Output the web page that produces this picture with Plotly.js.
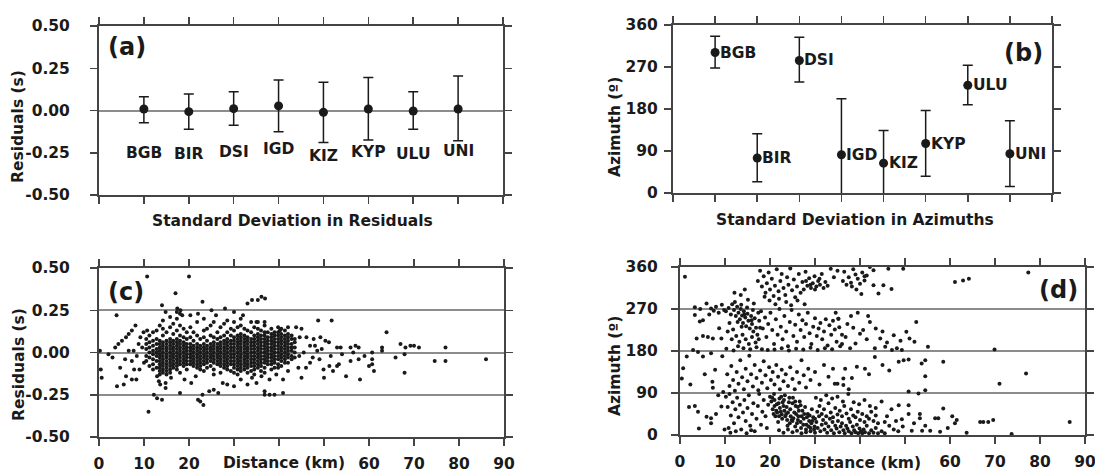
<!DOCTYPE html>
<html><head><meta charset="utf-8">
<script src="https://cdn.plot.ly/plotly-3.0.1.min.js"></script>
<style>html,body{margin:0;padding:0;background:#fff}#chart{width:1095px;height:473px}</style>
</head><body><div id="chart"></div>
<script>
// ---------- DATA ----------
const stations = ['BGB','BIR','DSI','IGD','KIZ','KYP','ULU','UNI'];
const resMean  = [0.009,-0.007,0.011,0.027,-0.011,0.009,-0.003,0.009];
const resUpper = [0.082,0.098,0.111,0.180,0.167,0.196,0.111,0.204];
const resLower = [-0.072,-0.111,-0.088,-0.125,-0.190,-0.175,-0.111,-0.179];
const resLabelY = [-0.253,-0.260,-0.245,-0.230,-0.270,-0.245,-0.257,-0.240];

const aziMean  = [301,75,284,82,64,106,231,84];
const aziUpper = [336,127,334,202,134,177,274,155];
const aziLower = [268,24,238,-36,-7,36,189,14];

const distTicks = [0,10,20,30,40,50,60,70,80,90];
const distTickText = ['0','10','20','','','','60','70','80','90'];

// residual vs distance: dense streak columns [distance, residuals]
const resColumns = [
 [10.5,[0.02,-0.02,0.05,-0.05,0.08]],
 [11.2,[0.0,0.03,-0.03,0.06,-0.08,0.1]],
 [12.0,[0.01,-0.01,0.04,-0.04,0.07,-0.07,0.12,-0.1]],
 [12.8,[0.0,0.02,-0.02,0.05,-0.05,0.08,-0.09,0.13]],
 [13.5,[0.03,0.01,-0.01,-0.03,-0.05,-0.07,-0.09,-0.11,-0.13,0.05,0.07,0.16]],
 [14.2,[0.06,0.04,0.02,0.0,-0.02,-0.04,-0.06,-0.08,-0.1,-0.12,0.1,0.14,0.19]],
 [15.0,[0.07,0.05,0.03,0.01,-0.01,-0.03,-0.05,-0.07,-0.09,-0.11,-0.13,0.12]],
 [15.8,[0.08,0.06,0.04,0.02,0.0,-0.02,-0.04,-0.06,-0.08,-0.1,-0.12,0.15,0.21]],
 [16.5,[0.07,0.05,0.03,0.01,-0.01,-0.03,-0.05,-0.07,-0.09,0.11,0.17]],
 [17.3,[0.08,0.06,0.04,0.02,0.0,-0.02,-0.04,-0.06,-0.08,-0.1,0.13,0.2,0.24]],
 [18.0,[0.07,0.05,0.03,0.01,-0.01,-0.03,-0.05,-0.07,-0.12,0.1,0.16,0.23]],
 [18.8,[0.06,0.04,0.02,0.0,-0.02,-0.04,-0.06,-0.08,0.09,0.14]],
 [19.5,[0.05,0.03,0.01,-0.01,-0.03,-0.05,-0.07,-0.1,0.08,0.12]],
 [20.3,[0.05,0.03,0.01,-0.01,-0.03,-0.05,-0.07,0.09,0.15,0.22]],
 [21.0,[0.04,0.02,0.0,-0.02,-0.04,-0.06,-0.08,0.07,0.12]],
 [21.8,[0.05,0.03,0.01,-0.01,-0.03,-0.05,-0.07,-0.09,0.1,0.18]],
 [22.5,[0.04,0.02,0.0,-0.02,-0.04,-0.06,-0.08,-0.1,0.08]],
 [23.3,[0.05,0.03,0.01,-0.01,-0.03,-0.05,-0.07,-0.11,0.09,0.13,0.2]],
 [24.0,[0.04,0.02,0.0,-0.02,-0.04,-0.06,-0.09,0.07,0.14]],
 [24.8,[0.05,0.03,0.01,-0.01,-0.03,-0.05,-0.08,0.1,0.16]],
 [25.5,[0.06,0.04,0.02,0.0,-0.02,-0.04,-0.06,-0.1,-0.13,0.09,0.18]],
 [26.3,[0.05,0.03,0.01,-0.01,-0.03,-0.05,-0.07,0.08,0.12]],
 [27.0,[0.06,0.04,0.02,0.0,-0.02,-0.04,-0.06,-0.08,-0.12,0.09,0.15]],
 [27.8,[0.07,0.05,0.03,0.01,-0.01,-0.03,-0.05,-0.07,-0.09,0.1,0.17]],
 [28.5,[0.08,0.06,0.04,0.02,0.0,-0.02,-0.04,-0.06,-0.08,-0.1,0.12,0.19]],
 [29.3,[0.07,0.05,0.03,0.01,-0.01,-0.03,-0.05,-0.07,-0.11,0.1,0.14]],
 [30.0,[0.09,0.07,0.05,0.03,0.01,-0.01,-0.03,-0.05,-0.07,-0.09,-0.12,0.13,0.18]],
 [30.8,[0.1,0.08,0.06,0.04,0.02,0.0,-0.02,-0.04,-0.06,-0.08,-0.1,-0.13,0.15]],
 [31.5,[0.11,0.09,0.07,0.05,0.03,0.01,-0.01,-0.03,-0.05,-0.07,-0.09,-0.11,0.16,0.2]],
 [32.3,[0.1,0.08,0.06,0.04,0.02,0.0,-0.02,-0.04,-0.06,-0.08,-0.1,0.14]],
 [33.0,[0.09,0.07,0.05,0.03,0.01,-0.01,-0.03,-0.05,-0.07,-0.09,-0.12,0.13]],
 [33.8,[0.08,0.06,0.04,0.02,0.0,-0.02,-0.04,-0.06,-0.08,-0.11,0.12,0.18]],
 [34.5,[0.1,0.08,0.06,0.04,0.02,0.0,-0.02,-0.04,-0.06,-0.08,-0.1,-0.13,0.15]],
 [35.3,[0.11,0.09,0.07,0.05,0.03,0.01,-0.01,-0.03,-0.05,-0.07,-0.09,0.14,0.18]],
 [36.0,[0.1,0.08,0.06,0.04,0.02,0.0,-0.02,-0.04,-0.06,-0.08,-0.11,0.13]],
 [36.8,[0.12,0.1,0.08,0.06,0.04,0.02,0.0,-0.02,-0.04,-0.06,-0.09,-0.12,0.16]],
 [37.5,[0.09,0.07,0.05,0.03,0.01,-0.01,-0.03,-0.05,-0.07,0.12]],
 [38.3,[0.11,0.09,0.07,0.05,0.03,0.01,-0.01,-0.03,-0.05,-0.07,-0.1,0.14]],
 [39.0,[0.1,0.08,0.06,0.04,0.02,0.0,-0.02,-0.04,-0.06,-0.09,0.12]],
 [39.8,[0.12,0.1,0.08,0.06,0.04,0.02,0.0,-0.02,-0.04,-0.07,0.15]],
 [40.5,[0.11,0.09,0.07,0.05,0.03,0.01,-0.01,-0.03,-0.05,-0.08,0.14]],
 [41.3,[0.1,0.08,0.06,0.04,0.02,0.0,-0.02,-0.04,-0.06,0.13]],
 [42.0,[0.09,0.07,0.05,0.03,0.01,-0.01,-0.03,-0.06,0.11]],
 [42.8,[0.08,0.05,0.03,0.01,-0.02,-0.04,0.1]],
 [43.5,[0.06,0.03,0.0,-0.03,0.08]]
];
// residual vs distance: scattered points [distance, residual]
const resScatter = [
 [0.4,-0.10],[0.6,-0.15],[0.2,0.01],[2.1,-0.01],[3.0,-0.03],[3.9,0.22],[3.6,0.03],[4.3,0.05],[5.1,0.07],[6.0,0.09],
 [6.6,0.11],[7.3,0.13],[8.1,0.16],[6.0,-0.14],[5.8,-0.04],[4.7,-0.09],[7.3,-0.05],[7.8,-0.10],[7.3,-0.16],[8.3,-0.16],
 [6.6,0.01],[7.7,0.01],[8.4,-0.02],[8.8,0.05],[9.2,0.09],[9.6,0.03],[9.9,0.12],[10.7,0.13],[10.7,0.45],[11.0,-0.35],
 [12.2,-0.25],[12.9,-0.27],[14.0,-0.28],[12.9,-0.14],[13.3,-0.17],[13.6,-0.19],[14.8,-0.18],[14.8,-0.21],[17.0,0.35],[20.0,0.45],
 [23.0,0.30],[14.0,0.28],[14.8,0.24],[17.4,0.26],[18.1,0.25],[18.5,0.22],[4.0,-0.2],[5.5,-0.19],[9.0,-0.10],[10.0,-0.06],
 [18.0,-0.24],[20.5,-0.18],[22.0,-0.28],[22.5,-0.29],[23.2,-0.31],[23.0,-0.25],[21.5,-0.14],[24.5,-0.23],[25.5,-0.22],[26.5,-0.24],
 [27.5,-0.18],[28.5,-0.19],[19.0,-0.16],[16.0,-0.15],[25.0,0.25],[26.0,0.22],[22.0,0.23],[28.0,0.26],[30.0,0.24],[32.0,0.22],
 [33.0,0.29],[34.0,0.31],[35.3,0.31],[36.1,0.33],[36.9,0.32],[35.0,0.18],[36.8,0.18],[40.2,0.13],[42.0,0.15],[43.8,0.15],
 [35.0,-0.18],[36.8,-0.23],[36.8,-0.25],[37.9,-0.25],[39.0,-0.25],[40.9,-0.24],[37.9,-0.16],[39.4,-0.13],[36.1,-0.14],[39.8,-0.09],
 [42.0,-0.11],[44.3,-0.09],[33.0,-0.19],[31.5,-0.16],[30.0,-0.2],[34.0,-0.15],
 [48.7,0.19],[51.7,0.19],[45.0,0.14],[63.9,0.12],[44.6,0.09],[46.1,0.09],[47.7,0.08],[49.2,0.09],[50.3,0.07],[51.1,0.06],
 [46.9,0.04],[48.0,0.04],[49.5,0.02],[52.9,0.03],[53.7,0.03],[55.9,0.03],[57.0,0.04],[57.7,0.03],[60.7,0.0],[62.9,0.03],
 [62.9,0.01],[67.0,0.05],[68.1,0.03],[69.2,0.04],[70.0,0.04],[71.1,0.03],[77.0,0.03],[65.9,-0.03],[67.9,-0.01],[74.6,-0.05],
 [77.0,-0.05],[86.0,-0.04],[60.7,-0.04],[60.7,-0.07],[60.0,-0.08],[61.1,-0.11],[67.9,-0.12],[57.7,-0.04],[55.9,-0.05],[53.3,-0.07],
 [52.9,-0.08],[52.0,-0.11],[49.9,-0.10],[50.0,-0.15],[51.2,-0.08],[54.9,-0.14],[58.0,-0.16],[49.0,-0.04],[46.9,-0.06],[45.0,-0.15],
 [40.9,-0.16],[44.5,-0.02],[45.5,0.0],[46.0,-0.09],[47.5,-0.03],[48.5,0.01],[51.5,-0.02],[54.0,-0.01],[56.5,0.0],[59.0,-0.02]
];
// azimuth vs distance [distance, azimuth]
const aziPoints = [
 [1.1,339],[0.7,143],[0.4,121],[2.3,108],[3.3,257],[5.1,246],[4.4,243],[3.7,207],[3.3,274],[4.5,270],
 [5.9,282],[6.9,271],[7.5,266],[8.0,275],[8.6,262],[9.3,279],[9.8,268],[5.1,212],[6.2,210],[7.3,207],
 [9.2,207],[2.9,182],[4.0,178],[5.1,168],[6.9,175],[9.4,169],[1.5,168],[3.3,62],[4.0,50],[5.9,39],
 [6.9,36],[6.9,25],[4.2,14],[7.2,114],[7.3,101],[9.2,61],[8.5,85],[9.6,92],[8.0,45],[7.8,140],
 [2.0,60],[9.9,12],[6.5,258],[8.7,229],[5.5,130],
 [10.2,265],[10.8,272],[11.3,258],[11.6,280],[12.0,268],[12.4,255],[12.7,275],[13.0,262],[13.3,248],[13.5,270],
 [13.8,256],[14.0,240],[14.2,265],[14.5,252],[14.7,233],[15.0,260],[15.2,245],[15.5,228],[15.8,255],[16.0,238],
 [16.3,222],[16.6,250],[16.9,230],[17.2,215],[12.2,285],[13.6,279],[14.9,273],[16.2,268],[11.0,240],[11.8,226],
 [12.5,212],[13.2,200],[13.9,215],[14.6,205],[15.3,195],[16.0,210],[16.8,198],[17.5,205],[12.9,190],[14.1,186],
 [15.6,184],[17.0,188],[10.6,222],[11.5,205],[13.7,232],[15.9,246],[14.3,258],[12.8,242],[10.3,185],[11.9,181],
 [17.8,230],[17.4,262],[16.4,282],[15.1,290],[13.5,300],[14.4,312],[12.1,305],
 [17.3,330],[17.8,352],[18.2,318],[18.6,340],[19.0,305],[19.3,325],[19.7,348],[20.0,312],[20.4,335],[20.8,298],
 [21.1,320],[21.5,355],[21.9,308],[22.3,330],[22.6,345],[23.0,315],[23.4,300],[23.8,338],[24.1,322],[24.5,357],
 [24.9,310],[25.3,333],[25.6,295],[26.0,318],[26.4,345],[26.8,305],[27.2,328],[27.5,312],[27.9,350],[28.3,320],
 [28.7,336],[29.1,315],[29.5,325],[29.9,340],[30.3,318],[30.7,330],[31.1,322],[31.5,345],[31.9,315],[32.3,328],
 [30.0,312],[29.0,322],[28.0,330],[31.0,335],[32.8,320],[33.5,356],[34.2,338],[35.0,352],[18.8,296],[19.9,288],
 [21.2,280],[22.0,292],[23.6,285],[24.7,278],[26.1,288],[27.7,280],
 [17.6,245],[18.0,265],[18.4,228],[18.9,252],[19.2,210],[19.6,238],[20.1,262],[20.5,225],[20.9,195],[21.3,248],
 [21.7,215],[22.1,270],[22.4,232],[22.8,205],[23.2,255],[23.6,222],[24.0,190],[24.4,242],[24.8,268],[25.2,212],
 [25.6,236],[26.0,200],[26.4,258],[26.8,225],[27.2,246],[27.6,210],[28.0,238],[28.4,262],[28.8,218],[29.2,195],
 [29.6,232],[30.0,250],[30.4,212],[30.8,228],[31.2,240],[31.6,205],[32.0,222],[32.4,248],[32.8,192],[33.2,235],
 [33.6,215],[34.0,245],[34.4,226],[35.2,249],[34.8,200],[18.2,184],[19.5,182],[21.0,183],[22.6,186],[24.2,181],
 [25.8,185],[27.4,183],[29.0,187],[30.6,182],[32.2,186],[33.8,184],[35.6,190],[34.6,262],[35.4,231],[36.0,215],
 [36.5,350],[37.5,338],[38.0,326],[38.5,355],[39.0,344],[39.5,335],[40.0,324],[40.5,348],[41.0,331],[41.5,342],
 [42.2,360],[43.0,353],[43.0,321],[44.1,303],[45.2,321],[46.3,356],[49.6,356],[47.0,313],[36.2,330],[37.0,322],
 [38.2,318],[39.2,312],[40.3,302],[41.0,340],[61.1,328],[62.9,331],[64.2,335],[77.4,348],
 [35.2,249],[42.2,242],[50.3,221],[52.5,242],[51.0,207],[52.1,200],[55.1,189],[69.9,183],[49.3,182],[47.1,182],
 [45.6,189],[44.5,207],[40.7,225],[40.0,217],[37.2,238],[38.5,230],[36.8,210],[39.0,196],[41.5,205],[43.3,186],
 [46.0,198],[48.2,186],[37.8,186],[36.0,195],[38.0,255],[39.5,262],[41.8,255],[43.5,228],[45.0,222],[47.5,214],[49.0,202],
 [10.5,130],[11.0,105],[11.4,148],[11.8,118],[12.2,95],[12.6,135],[13.0,110],[13.4,160],[13.8,124],[14.2,98],
 [14.6,142],[15.0,115],[15.4,170],[15.8,130],[16.2,104],[16.6,150],[17.0,122],[17.4,96],[17.8,138],[18.2,112],
 [18.6,158],[19.0,128],[19.4,100],[19.8,145],[20.2,118],[20.6,135],[21.0,108],[21.4,150],[21.8,125],[22.2,98],
 [22.6,140],[23.0,115],[23.5,130],[24.0,105],[24.5,145],[25.0,120],[25.5,98],[26.0,135],[26.5,112],[27.0,160],
 [27.5,128],[28.0,102],[28.5,142],[29.0,118],[30.0,135],[31.0,108],[32.0,150],[33.0,125],[34.0,142],[35.0,110],
 [36.7,142],[39.3,146],[41.1,142],[43.3,167],[34.4,110],[36.3,121],[36.3,107],[38.2,122],[37.5,98],[48.6,157],
 [49.7,160],[50.8,162],[53.7,153],[54.5,160],[58.5,157],[54.5,126],[54.5,96],[71.0,110],[76.9,132],[42.0,130],
 [45.0,150],[46.5,138],
 [10.2,82],[10.6,60],[11.0,88],[11.3,42],[11.7,70],[12.0,25],[12.3,55],[12.7,80],[13.0,38],[13.3,65],
 [13.6,12],[14.0,48],[14.3,75],[14.6,30],[15.0,58],[15.3,85],[15.6,20],[16.0,45],[16.3,68],[16.6,8],
 [17.0,35],[17.3,62],[17.6,88],[18.0,22],[18.3,50],[18.6,75],[19.0,40],[19.3,15],[19.6,65],[20.0,82],
 [11.2,5],[12.4,8],[14.8,4],[15.8,10],[10.8,15],
 [20.3,72],[20.6,55],[20.9,88],[21.2,40],[21.5,66],[21.8,28],[22.1,78],[22.4,50],[22.7,35],[23.0,62],
 [23.3,85],[23.6,45],[23.9,20],[24.2,70],[24.5,55],[24.8,32],[25.1,80],[25.4,48],[25.7,62],[26.0,25],
 [26.3,40],[26.6,72],[26.9,15],[27.2,52],[27.5,35],[27.8,60],[28.1,22],[28.4,45],[28.7,30],[29.0,8],
 [29.3,55],[29.6,38],[29.9,18],[20.5,80],[21.0,62],[21.6,48],[22.2,58],[22.8,70],[23.4,40],[24.0,48],
 [24.6,40],[25.2,36],[25.8,45],[26.4,52],[27.0,40],[27.6,45],[28.2,38],[28.8,42],[29.4,30],[30.0,35],
 [21.0,75],[21.9,68],[22.5,82],[23.1,75],[23.7,60],[24.3,80],[25.0,68],[25.6,72],[26.2,60],[26.8,64],
 [20.8,45],[21.4,52],[22.0,40],[22.6,44],[23.2,52],[23.8,32],[24.4,25],[25.0,30],[25.6,18],[26.2,32],
 [26.8,28],[27.4,22],[28.0,12],[28.6,18],[29.2,25],[29.8,12],[22.0,10],[23.0,5],[24.0,12],[25.0,6],
 [26.0,9],[27.0,4],[28.0,6],[29.0,15],[30.0,5],
 [30.3,28],[30.6,15],[30.9,40],[31.2,8],[31.5,22],[31.8,32],[32.1,12],[32.4,25],[32.7,5],[33.0,18],
 [33.3,35],[33.6,10],[33.9,28],[34.2,4],[34.5,20],[34.8,14],[35.1,30],[35.4,6],[35.7,18],[36.0,25],
 [36.3,10],[36.6,4],[36.9,20],[37.2,14],[37.5,8],[37.8,28],[38.1,4],[38.4,18],[38.7,10],[39.0,6],
 [39.3,22],[39.6,4],[39.9,14],[40.2,8],[40.5,4],[40.8,12],[41.1,6],[41.5,20],[42.0,4],[42.5,10],
 [43.0,5],[43.5,15],[44.0,4],[44.8,8],[45.5,4],
 [30.5,50],[31.0,62],[31.5,45],[32.0,55],[32.5,40],[33.0,68],[33.5,48],[34.0,38],[34.5,58],[35.0,44],
 [35.5,52],[36.0,40],[36.5,62],[37.0,46],[37.5,35],[38.0,55],[38.5,42],[39.0,38],[39.5,50],[40.0,32],
 [40.5,45],[41.0,28],[41.5,40],[42.0,35],[42.5,50],[43.0,30],[43.5,42],[44.0,25],[30.2,80],[31.3,75],
 [32.5,85],[33.8,78],[35.0,82],[36.2,72],[37.4,88],[38.6,70],[39.8,66],[41.0,75],[42.2,62],[43.5,58],
 [44.8,72],[46.0,40],[47.0,55],[48.0,30],
 [48.6,64],[50.8,64],[50.8,45],[49.3,34],[51.5,9],[53.3,45],[53.3,36],[53.8,9],[55.6,9],[56.7,36],
 [57.4,36],[58.5,57],[57.8,7],[61.1,25],[61.5,32],[63.7,5],[66.7,28],[67.4,28],[68.5,28],[69.6,32],
 [73.7,2],[86.6,28],[53.0,89],[50.8,93],[46.5,20],[47.5,12],[48.5,8],[49.5,18],[45.5,28],[52.0,25],
 [54.5,20],[59.5,15],[60.5,40]
];

// ---------- BUILD ----------
const W = 1095, H = 473;
const px = v => v / W, py = v => 1 - v / H;
const FONT = 'DejaVu Sans, Verdana, sans-serif';
const INK = '#1a1a1a', AXC = '#444', GRID = '#8c8c8c';
const FS = 15.5;

const stIdx = stations.map((s, i) => i + 1);
const resX = [], resY = [];
resColumns.forEach(c => c[1].forEach(v => { resX.push(c[0]); resY.push(v); }));
resScatter.forEach(p => { resX.push(p[0]); resY.push(p[1]); });

const traces = [
  { type: 'scatter', mode: 'markers', x: stIdx, y: resMean, xaxis: 'x', yaxis: 'y',
    marker: { color: INK, size: 9 }, cliponaxis: false,
    error_y: { type: 'data', symmetric: false,
      array: resUpper.map((u, i) => u - resMean[i]),
      arrayminus: resMean.map((m, i) => m - resLower[i]),
      color: INK, thickness: 1.5, width: 5 } },
  { type: 'scatter', mode: 'markers', x: stIdx, y: aziMean, xaxis: 'x2', yaxis: 'y2',
    marker: { color: INK, size: 9 }, cliponaxis: false,
    error_y: { type: 'data', symmetric: false,
      array: aziUpper.map((u, i) => u - aziMean[i]),
      arrayminus: aziMean.map((m, i) => m - aziLower[i]),
      color: INK, thickness: 1.5, width: 5 } },
  { type: 'scatter', mode: 'markers', x: resX, y: resY, xaxis: 'x3', yaxis: 'y3',
    marker: { color: INK, size: 4 } },
  { type: 'scatter', mode: 'markers', x: aziPoints.map(p => p[0]), y: aziPoints.map(p => p[1]),
    xaxis: 'x4', yaxis: 'y4', marker: { color: INK, size: 4 } }
];

const tickFont = { family: FONT, size: FS, color: INK, weight: 'bold' };
const baseAxis = {
  showline: true, linecolor: AXC, linewidth: 2, mirror: 'ticks',
  ticks: 'outside', ticklen: 7, tickwidth: 1.5, tickcolor: AXC,
  tickfont: tickFont, showgrid: false, zeroline: false, fixedrange: true,
  ticklabeloverflow: 'allow'
};
const catAxis = (dom, anchor) => Object.assign({}, baseAxis, {
  domain: dom, anchor: anchor, range: [0, 9], tickmode: 'array',
  tickvals: [0,1,2,3,4,5,6,7,8,9], showticklabels: false });
const distAxis = (dom, anchor) => Object.assign({}, baseAxis, {
  domain: dom, anchor: anchor, range: [0, 90], tickmode: 'array',
  tickvals: distTicks, ticktext: distTickText, ticklabelstandoff: 4 });
const resAxis = (dom, anchor, grid) => Object.assign({}, baseAxis, {
  domain: dom, anchor: anchor, range: [-0.5, 0.5], tickmode: 'array',
  tickvals: [-0.5,-0.25,0,0.25,0.5], ticktext: ['-0.50','-0.25','0.00','0.25','0.50'],
  ticklabelstandoff: 17,
  showgrid: grid, gridcolor: GRID, gridwidth: 2,
  zeroline: true, zerolinecolor: GRID, zerolinewidth: 2 });
const aziAxis = (dom, anchor, grid, standoff) => Object.assign({}, baseAxis, {
  domain: dom, anchor: anchor, range: [0, 360], tickmode: 'array',
  tickvals: [0,90,180,270,360], ticklabelstandoff: standoff,
  showgrid: grid, gridcolor: GRID, gridwidth: 2 });

const txtFont = { family: FONT, size: FS, color: INK, weight: 'bold' };
const panelFont = { family: FONT, size: 24, color: INK, weight: 'bold' };
const ann = (text, x, y, opts) => Object.assign({
  text: text, xref: 'paper', yref: 'paper', x: px(x), y: py(y),
  xanchor: 'center', yanchor: 'middle', showarrow: false,
  font: txtFont }, opts || {});

const annotations = [
  ann('(a)', 127, 47, { font: panelFont }),
  ann('(b)', 1023, 53, { font: panelFont }),
  ann('(c)', 126, 292, { font: panelFont }),
  ann('(d)', 1058, 290, { font: panelFont }),
  ann('Standard Deviation in Residuals', 292, 221),
  ann('Standard Deviation in Azimuths', 855, 220),
  ann('Distance (km)', 284, 463),
  ann('Distance (km)', 860, 463),
  ann('Residuals (s)', 18, 127, { textangle: -90 }),
  ann('Residuals (s)', 19, 365, { textangle: -90 }),
  ann('Azimuth (º)', 615, 127, { textangle: -90 }),
  ann('Azimuth (º)', 615, 366, { textangle: -90 })
];
stations.forEach((s, i) => {
  annotations.push({ text: s, xref: 'x', yref: 'y', x: i + 1, y: resLabelY[i],
    xanchor: 'center', yanchor: 'middle', showarrow: false, font: txtFont });
  annotations.push({ text: s, xref: 'x2', yref: 'y2', x: i + 1, y: aziMean[i],
    xanchor: 'left', yanchor: 'middle', xshift: 3, showarrow: false, font: txtFont });
});

const layout = {
  width: W, height: H, margin: { l: 0, r: 0, t: 0, b: 0 },
  paper_bgcolor: '#fff', plot_bgcolor: '#fff', showlegend: false,
  xaxis:  catAxis([px(99), px(503)], 'y'),
  yaxis:  resAxis([py(195), py(26)], 'x', false),
  xaxis2: catAxis([px(673), px(1052)], 'y2'),
  yaxis2: aziAxis([py(193), py(25)], 'x2', false, 3),
  xaxis3: distAxis([px(99), px(504)], 'y3'),
  yaxis3: resAxis([py(437), py(268)], 'x3', true),
  xaxis4: distAxis([px(680), px(1085)], 'y4'),
  yaxis4: aziAxis([py(435), py(267)], 'x4', true, 10),
  annotations: annotations
};

Plotly.newPlot('chart', traces, layout, { staticPlot: true, displayModeBar: false });
</script></body></html>
